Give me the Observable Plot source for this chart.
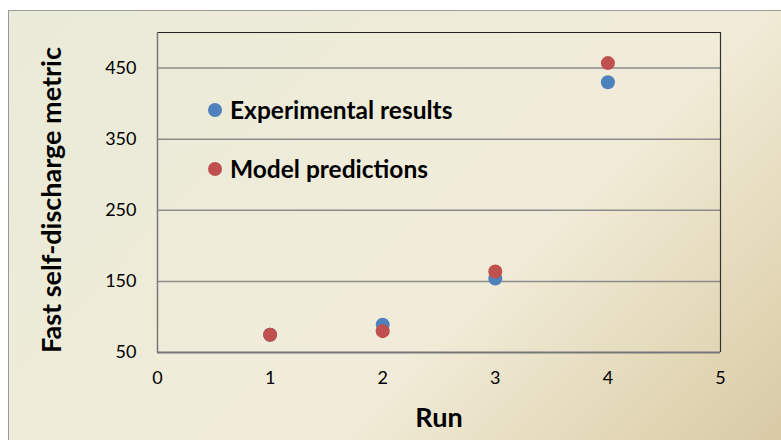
<!DOCTYPE html>
<html><head><meta charset="utf-8">
<script src="https://cdn.jsdelivr.net/npm/d3@7"></script>
<script src="https://cdn.jsdelivr.net/npm/@observablehq/plot@0.6"></script>
<style>
html,body{margin:0;padding:0;background:#fff;}
#wrap{position:relative;width:781px;height:440px;overflow:hidden;font-family:Lato,"Open Sans",sans-serif;}
#bg{position:absolute;left:8px;top:10px;width:790px;height:450px;border:1.5px solid #9a9a9a;
 background:linear-gradient(135deg,#e9ead8 0%,#eeecd9 35%,#f1ecd9 60%,#e3d8b8 82%,#d6c7a1 100%);}
#chart{position:absolute;left:0;top:0;}
#chart svg{background:transparent;overflow:visible;}
.leg{position:absolute;font-weight:bold;font-size:24.5px;color:#000;display:flex;align-items:center;white-space:nowrap;line-height:1;}
.leg span.d{display:inline-block;width:14px;height:14px;border-radius:50%;margin-right:8px;}
.ttl{position:absolute;font-weight:bold;font-size:27px;color:#000;white-space:nowrap;line-height:1;}
</style></head>
<body>
<div id="wrap"><div id="bg"></div><div id="chart"></div>
<div class="leg" style="left:208px;top:98px;"><span class="d" style="background:#4f81bd"></span>Experimental results</div>
<div class="leg" style="left:208px;top:157px;"><span class="d" style="background:#c0504d"></span>Model predictions</div>
<div class="ttl" id="ylab" style="left:50px;top:200px;transform:translate(-50%,-50%) rotate(-90deg);">Fast self-discharge metric</div>
<div class="ttl" id="xlab" style="left:439px;top:416px;transform:translate(-50%,-50%);">Run</div>
</div>
<script>
const runs = [1, 2, 3, 4];
const experimental = [75, 89, 154, 430];
const model = [75, 80, 164, 457];
const seriesNames = ["Experimental results", "Model predictions"];
const seriesColors = ["#4f81bd", "#c0504d"];
const yTicks = [50, 150, 250, 350, 450];
const gridTicks = [150, 250, 350, 450];
const xTicks = [0, 1, 2, 3, 4, 5];

const data = [];
runs.forEach((r, i) => data.push({run: r, value: experimental[i], series: seriesNames[0]}));
runs.forEach((r, i) => data.push({run: r, value: model[i], series: seriesNames[1]}));

const chart = Plot.plot({
  width: 781, height: 440,
  marginLeft: 157, marginRight: 61, marginTop: 32, marginBottom: 88,
  style: {fontFamily: "Lato, 'Open Sans', sans-serif", background: "transparent", color: "#000"},
  x: {domain: [0, 5]},
  y: {domain: [50, 500]},
  color: {domain: seriesNames, range: seriesColors},
  marks: [
    Plot.gridY(gridTicks, {stroke: "#8c8c8c", strokeOpacity: 1, strokeWidth: 1.5}),
    Plot.ruleY([500], {stroke: "#222", strokeWidth: 1}),
    Plot.ruleX([5], {stroke: "#333", strokeWidth: 1.2}),
    Plot.ruleY([50], {stroke: "#777", strokeWidth: 2}),
    Plot.ruleX([0], {stroke: "#777", strokeWidth: 1.5}),
    Plot.axisX(xTicks, {tickSize: 0, tickPadding: 19, fontSize: 18, tickFormat: "d", label: null, fill: "#000"}),
    Plot.axisY(yTicks, {tickSize: 0, tickPadding: 21, fontSize: 18, tickFormat: "d", label: null, fill: "#000"}),
    Plot.dot(data, {x: "run", y: "value", fill: "series", r: 7, stroke: null})
  ]
});
document.getElementById("chart").appendChild(chart);
</script>
</body></html>
